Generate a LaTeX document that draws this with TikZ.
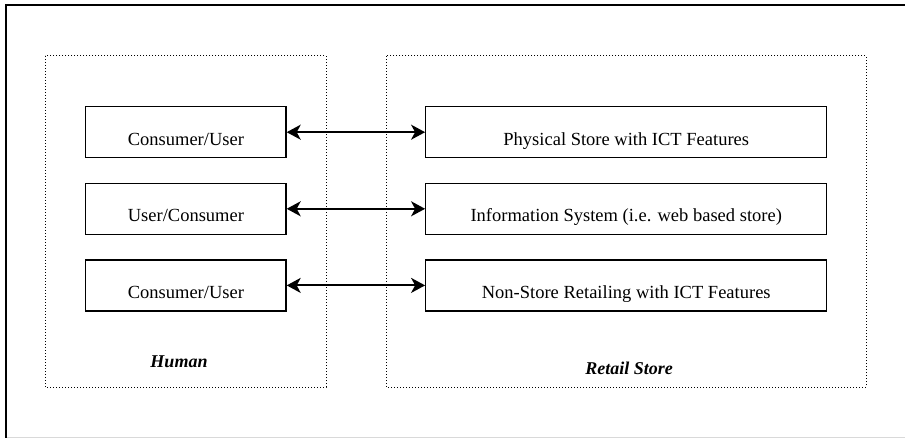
\documentclass[tikz,border=0pt]{standalone}
\usepackage{fontspec}
\setmainfont{Liberation Serif}
\usetikzlibrary{arrows.meta,positioning}

\begin{document}
\begin{tikzpicture}[
  x=1pt, y=-1pt,
  font=\fontsize{18.5}{22}\selectfont,
  box/.style={draw, line width=1.3pt, minimum height=51pt, inner sep=0pt, text height=28pt, text depth=2pt},
  human/.style={box, minimum width=200.3pt},
  store/.style={box, minimum width=401pt},
  group/.style={draw, line width=1pt, dash pattern=on 1pt off 2pt},
  title/.style={anchor=base, font=\fontsize{18}{22}\selectfont\bfseries\itshape},
  arr/.style={{Stealth[length=14pt,width=15pt,inset=4pt]}-{Stealth[length=14pt,width=15pt,inset=4pt]}, line width=2pt}
]
\useasboundingbox (0,0) rectangle (905,438);
% outer frame
\draw[black!15, line width=1pt] (6,437) -- (905,437);
\draw[line width=1.6pt] (905,4.8) -- (5.7,4.8) -- (5.7,438);
% groups
\draw[group] (45,56) rectangle (326,387);
\draw[group] (386,56) rectangle (866,387);
\node[title] (h) at (179,367.3) {Human};
\node[title] (r) at (629,374) {Retail Store};
% left column
\node[human] (u1) at (185.9,132.2) {Consumer/User};
\node[human, below=24.3pt of u1] (u2) {User/Consumer};
\node[human, below=24.3pt of u2] (u3) {Consumer/User};
% right column
\node[store, right=138.4pt of u1] (s1) {Physical Store with ICT Features};
\node[store, right=138.4pt of u2] (s2) {Information System (i.e. web based store)};
\node[store, right=138.4pt of u3] (s3) {Non-Store Retailing with ICT Features};
\draw[arr] (u1) -- (s1);
\draw[arr] (u2) -- (s2);
\draw[arr] (u3) -- (s3);
\end{tikzpicture}
\end{document}
